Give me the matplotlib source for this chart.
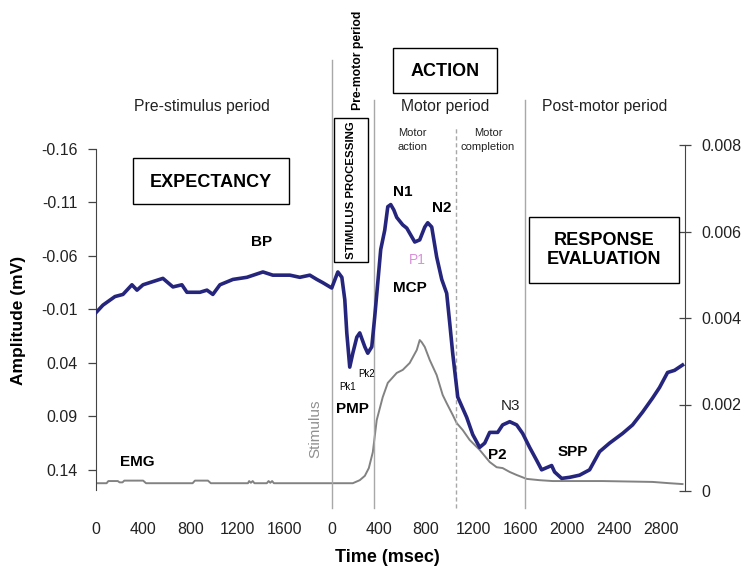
import matplotlib
matplotlib.use("Agg")
import matplotlib.pyplot as plt
from matplotlib.patches import Rectangle

W, H = 745, 566

# Time axis: ms from start of the epoch, stimulus delivered at 2000 ms
time_ticks = [0, 400, 800, 1200, 1600, 2000, 2400, 2800, 3200, 3600, 4000, 4400, 4800]
time_tick_labels = ["0", "400", "800", "1200", "1600",
                    "0", "400", "800", "1200", "1600", "2000", "2400", "2800"]

amp_ticks = [-0.16, -0.11, -0.06, -0.01, 0.04, 0.09, 0.14]
amp_tick_labels = ["-0.16", "-0.11", "-0.06", "-0.01", "0.04", "0.09", "0.14"]
emg_ticks = [0, 0.002, 0.004, 0.006, 0.008]
emg_tick_labels = ["0", "0.002", "0.004", "0.006", "0.008"]

# Movement-related cortical potential (mV, negative up)
mrcp_time = [0, 59, 161, 229, 305, 348, 399, 483, 568, 653, 729, 772, 882, 942,
             992, 1052, 1162, 1281, 1417, 1501, 1646, 1730, 1815, 1875, 1925,
             2001, 2053, 2087, 2112, 2129, 2154, 2180, 2214, 2239, 2282, 2307,
             2341, 2366, 2392, 2417, 2451, 2477, 2502, 2528, 2553, 2604, 2638,
             2706, 2748, 2791, 2816, 2850, 2892, 2935, 2977, 3003, 3028, 3071,
             3147, 3198, 3257, 3300, 3342, 3410, 3452, 3512, 3571, 3622, 3681,
             3740, 3783, 3825, 3868, 3893, 3953, 4021, 4105, 4190, 4275, 4360,
             4470, 4555, 4640, 4724, 4784, 4852, 4911, 4979]
mrcp_amp = [-0.007, -0.014, -0.022, -0.024, -0.033, -0.028, -0.033, -0.036,
            -0.039, -0.031, -0.033, -0.026, -0.026, -0.028, -0.024, -0.033,
            -0.038, -0.040, -0.045, -0.042, -0.042, -0.040, -0.042, -0.038,
            -0.035, -0.030, -0.045, -0.040, -0.019, 0.012, 0.044, 0.031, 0.016,
            0.012, 0.025, 0.031, 0.025, -0.003, -0.035, -0.066, -0.084, -0.106,
            -0.108, -0.103, -0.096, -0.089, -0.086, -0.073, -0.075, -0.087,
            -0.091, -0.087, -0.059, -0.038, -0.025, 0.003, 0.031, 0.072, 0.091,
            0.107, 0.119, 0.115, 0.105, 0.105, 0.098, 0.095, 0.098, 0.106,
            0.119, 0.131, 0.140, 0.138, 0.136, 0.142, 0.148, 0.147, 0.145,
            0.140, 0.123, 0.115, 0.106, 0.098, 0.086, 0.073, 0.063, 0.049,
            0.047, 0.042]

# Rectified EMG (right axis)
emg_time = [0, 90, 105, 185, 200, 225, 240, 400, 425, 820, 840, 950, 975,
            1290, 1300, 1315, 1330, 1345, 1450, 1465, 1480, 1495, 1510,
            2180, 2239, 2282, 2316, 2350, 2383, 2434, 2477, 2553, 2604, 2663,
            2723, 2748, 2765, 2791, 2833, 2892, 2943, 2977, 3028, 3062, 3113,
            3172, 3257, 3342, 3401, 3452, 3512, 3571, 3656, 3766, 3876, 4300,
            4724, 4869, 4979]
emg_amp = [0.00018, 0.00018, 0.00023, 0.00023, 0.00020, 0.00020, 0.00024,
           0.00024, 0.00018, 0.00018, 0.00024, 0.00024, 0.00018,
           0.00018, 0.00023, 0.00019, 0.00023, 0.00018, 0.00018, 0.00023,
           0.00019, 0.00023, 0.00018,
           0.00018, 0.00025, 0.00035, 0.00053, 0.00090, 0.00164, 0.00217,
           0.00250, 0.00273, 0.00280, 0.00296, 0.00326, 0.00349, 0.00344,
           0.00333, 0.00303, 0.00268, 0.00222, 0.00203, 0.00176, 0.00157,
           0.00141, 0.00118, 0.00095, 0.00067, 0.00055, 0.00053, 0.00044,
           0.00037, 0.00028, 0.00025, 0.00023, 0.00023, 0.00021, 0.00018,
           0.00016]

# Period boundaries (ms on the same time axis)
stimulus_onset = 2000
premotor_end = 2360
motor_action_end = 3055
motor_end = 3640

SANS = ["Liberation Sans", "DejaVu Sans"]
plt.rcParams["font.family"] = SANS

NAVY = "#25257d"
GREY = "#828282"
LINE = "#a8a8a8"
TXT = "#222222"


def fx(x):
    return x / W


def fy(y):
    return 1 - y / H


fig = plt.figure(figsize=(W / 100, H / 100), dpi=100)
ax_left, ax_right, ax_top, ax_bottom = 96, 685, 145, 491
ax = fig.add_axes([fx(ax_left), fy(ax_bottom), (ax_right - ax_left) / W,
                   (ax_bottom - ax_top) / H])
ax2 = ax.twinx()

# EMG trace on the right axis, MRCP on the left axis (drawn on top)
ax2.plot(emg_time, emg_amp, color=GREY, lw=1.4, zorder=2)
ax2.set_ylim(0, 0.008)
ax.set_zorder(ax2.get_zorder() + 1)
ax.patch.set_visible(False)
ax.plot(mrcp_time, mrcp_amp, color=NAVY, lw=2.6, solid_joinstyle="round",
        zorder=3)

ax.set_xlim(0, 5000)
ax.set_ylim(0.1598, -0.1637)

# Period boundary lines
y_of = lambda ypix: (ax_bottom - ypix) / (ax_bottom - ax_top)
ax.axvline(stimulus_onset, y_of(508), y_of(60), color=LINE, lw=1.0,
           clip_on=False, zorder=1)
ax.axvline(premotor_end, y_of(508), y_of(100), color=LINE, lw=1.0,
           clip_on=False, zorder=1)
ax.axvline(motor_action_end, y_of(508), y_of(127), color=LINE, lw=1.0,
           ls=(0, (3, 2)), clip_on=False, zorder=1)
ax.axvline(motor_end, y_of(508), y_of(100), color=LINE, lw=1.0,
           clip_on=False, zorder=1)

# Axes styling
for a in (ax, ax2):
    a.spines["top"].set_visible(False)
    a.spines["bottom"].set_visible(False)
ax.spines["right"].set_visible(False)
ax2.spines["left"].set_visible(False)
ax.spines["left"].set_bounds(-0.16, 0.159)
ax.spines["left"].set_color("#444444")
ax2.spines["right"].set_color("#444444")

ax.set_yticks(amp_ticks)
ax.set_yticklabels(amp_tick_labels)
ax.tick_params(axis="y", direction="out", length=6, width=0.9,
               color="#444444", pad=7, labelsize=11.5, labelcolor=TXT)
ax2.set_yticks(emg_ticks)
ax2.set_yticklabels(emg_tick_labels)
ax2.tick_params(axis="y", direction="inout", length=9, width=0.9,
                color="#444444", pad=7, labelsize=11.5, labelcolor=TXT)

ax.set_xticks(time_ticks)
ax.set_xticklabels(time_tick_labels)
ax.tick_params(axis="x", length=0, pad=22, labelsize=11.5, labelcolor=TXT)
ax2.tick_params(axis="x", length=0, labelbottom=False)


def label(x, y, s, size=11, weight="normal", color="black", rotation=0, **kw):
    fig.text(fx(x), fy(y), s, ha="center", va="center", fontsize=size,
             fontweight=weight, color=color, rotation=rotation, **kw)


def box(x0, y0, x1, y1):
    fig.add_artist(Rectangle((fx(x0), fy(y1)), (x1 - x0) / W, (y1 - y0) / H,
                             transform=fig.transFigure, fill=False,
                             ec="black", lw=1.0))


# Period headings
label(202, 107, "Pre-stimulus period", 11.3, color=TXT)
label(445, 107, "Motor period", 11.3, color=TXT)
label(605, 107, "Post-motor period", 11.3, color=TXT)
label(412, 140, "Motor\naction", 8, color=TXT, linespacing=1.6)
label(488, 140, "Motor\ncompletion", 8, color=TXT, linespacing=1.6)
label(358, 60, "Pre-motor period", 8.8, weight="bold", rotation=90)

# Boxed phase names
box(334, 118, 368, 262)
label(351, 190, "STIMULUS PROCESSING", 8.2, weight="bold", rotation=90)
box(393, 48, 497, 93)
label(445, 71, "ACTION", 13, weight="bold")
box(133, 158, 289, 204)
label(211, 182, "EXPECTANCY", 13, weight="bold")
box(529, 217, 679, 283)
label(604, 250, "RESPONSE\nEVALUATION", 13, weight="bold", linespacing=1.2)

# Component labels
label(262, 242, "BP", 11, weight="bold")
label(403, 192, "N1", 11, weight="bold")
label(442, 208, "N2", 11, weight="bold")
label(417, 260, "P1", 10, color="#d890d8")
label(410, 288, "MCP", 11, weight="bold")
label(348, 387, "Pk1", 7)
label(367, 374, "Pk2", 7)
label(352, 409, "PMP", 11, weight="bold")
label(315, 429, "Stimulus", 11, color="#909090", rotation=90)
label(510, 406, "N3", 11, color=TXT)
label(497, 455, "P2", 11, weight="bold")
label(573, 452, "SPP", 11, weight="bold")
label(137, 462, "EMG", 11, weight="bold")

# Axis titles
label(19, 320, "Amplitude (mV)", 12.5, weight="bold", rotation=90)
label(387, 557, "Time (msec)", 13, weight="bold")

fig.savefig("out.png", dpi=100)
